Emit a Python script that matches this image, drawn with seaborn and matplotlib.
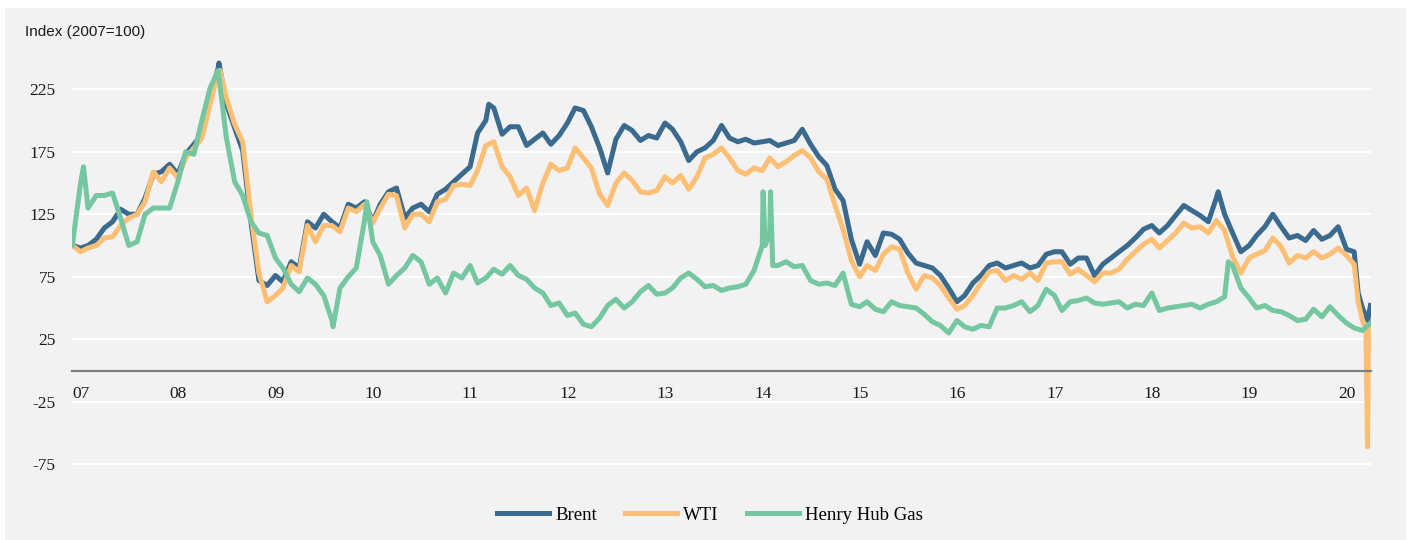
import pandas as pd
import seaborn as sns
import matplotlib.pyplot as plt
from matplotlib.patches import Rectangle

# monthly index values (2007=100), Jan 2007 .. May 2020
months = pd.date_range("2007-01-01", "2020-05-01", freq="MS")

brent = [100, 98, 100, 105, 114, 119, 129, 125, 125, 138, 157, 159,
         165, 157, 173, 181, 189, 216, 242, 213, 194, 176, 119, 72,
         68, 76, 71, 87, 82, 119, 114, 125, 119, 114, 133, 130,
         135, 119, 133, 143, 146, 122, 130, 133, 127, 141, 145, 151,
         157, 163, 190, 200, 210, 189, 195, 195, 180, 185, 190, 181,
         188, 198, 210, 208, 195, 178, 158, 185, 196, 192, 184, 188,
         186, 198, 193, 183, 168, 175, 178, 184, 196, 186, 183, 185,
         182, 183, 184, 180, 182, 184, 193, 181, 171, 164, 145, 136,
         105, 85, 103, 92, 110, 109, 105, 94, 86, 84, 82, 76,
         66, 55, 60, 70, 76, 84, 86, 82, 84, 86, 82, 84,
         93, 95, 95, 85, 90, 90, 76, 85, 90, 95, 100, 106,
         113, 116, 110, 116, 124, 132, 128, 124, 119, 138, 125, 110,
         95, 100, 108, 115, 125, 115, 106, 108, 104, 112, 105, 108,
         115, 97, 95, 50, 52]

wti = [100, 95, 98, 100, 106, 107, 116, 122, 125, 135, 159, 151,
       162, 154, 170, 178, 186, 213, 238, 218, 197, 183, 125, 78,
       55, 60, 66, 84, 79, 116, 103, 116, 116, 111, 130, 127,
       133, 118, 130, 141, 140, 114, 125, 125, 119, 135, 137, 148,
       149, 148, 160, 180, 183, 163, 155, 140, 146, 128, 150, 165,
       160, 162, 178, 170, 162, 141, 132, 150, 158, 152, 143, 142,
       144, 155, 150, 156, 145, 155, 170, 173, 178, 170, 160, 157,
       162, 160, 170, 163, 167, 172, 176, 170, 159, 153, 132, 113,
       88, 75, 84, 80, 93, 99, 97, 78, 65, 76, 74, 68,
       58, 49, 52, 60, 70, 79, 80, 72, 76, 73, 78, 72,
       86, 87, 87, 77, 81, 76, 71, 78, 78, 81, 89, 95,
       101, 105, 98, 104, 110, 118, 114, 115, 110, 120, 112, 91,
       78, 90, 93, 96, 106, 99, 86, 92, 90, 95, 90, 93,
       98, 92, 85, 40, 35]

gas = [100, 150, 130, 140, 140, 142, 122, 100, 103, 125, 130, 130,
       130, 151, 175, 173, 200, 226, 240, 186, 151, 140, 119, 110,
       108, 90, 82, 69, 63, 74, 69, 60, 40, 66, 75, 82,
       120, 103, 92, 69, 76, 82, 92, 87, 69, 74, 62, 78,
       74, 84, 70, 74, 81, 77, 84, 76, 73, 66, 62, 52,
       54, 44, 46, 37, 35, 42, 52, 57, 50, 55, 63, 68,
       61, 62, 66, 74, 78, 73, 67, 68, 64, 66, 67, 69,
       80, 100, 110, 84, 87, 83, 84, 72, 69, 70, 68, 78,
       53, 51, 55, 49, 47, 55, 52, 51, 50, 45, 39, 36,
       30, 40, 35, 33, 36, 35, 50, 50, 52, 55, 47, 52,
       65, 60, 48, 55, 56, 58, 54, 53, 54, 55, 50, 53,
       52, 62, 48, 50, 51, 52, 53, 50, 53, 55, 59, 84,
       66, 58, 50, 52, 48, 47, 44, 40, 41, 49, 43, 51,
       44, 38, 34, 32, 38]

# sharp moves between month starts
brent_extra_dates = ["2008-07-04", "2011-04-12", "2018-10-08", "2020-03-16", "2020-04-21"]
brent_extra = [246, 213, 143, 62, 40]

wti_extra_dates = ["2008-07-08", "2020-03-16", "2020-04-14", "2020-04-20", "2020-04-23"]
wti_extra = [240, 55, 33, -61, 15]

gas_extra_dates = ["2007-02-12", "2009-09-05", "2010-01-10", "2014-02-04", "2014-02-12",
                   "2014-03-04", "2014-03-12", "2018-11-15"]
gas_extra = [163, 35, 135, 143, 100, 143, 84, 87]

series_names = ["Brent", "WTI", "Henry Hub Gas"]
colors = ["#3a6a8e", "#fdbf74", "#74c7a1"]
year_labels = ["07", "08", "09", "10", "11", "12", "13", "14", "15", "16", "17", "18", "19", "20"]
y_ticks = [225, 175, 125, 75, 25, -25, -75]


def frame(name, vals, extra_dates, extra_vals):
    d = pd.DataFrame({"date": list(months) + list(pd.to_datetime(extra_dates)),
                      "value": list(vals) + list(extra_vals)})
    d["series"] = name
    return d.sort_values("date")


df = pd.concat([
    frame("Brent", brent, brent_extra_dates, brent_extra),
    frame("WTI", wti, wti_extra_dates, wti_extra),
    frame("Henry Hub Gas", gas, gas_extra_dates, gas_extra),
])

plt.rcParams["font.family"] = ["Liberation Serif", "DejaVu Serif"]
plt.rcParams["axes.unicode_minus"] = False

bg = "#f2f2f2"
fig = plt.figure(figsize=(14.11, 5.4), dpi=100, facecolor="white")
fig.patches.append(Rectangle((5 / 1411, 0), 1401 / 1411, 1 - 8 / 540,
                             transform=fig.transFigure, facecolor=bg, edgecolor="none", zorder=-10))
ax = fig.add_axes([72.3 / 1411, 1 - 476.75 / 540, 1298.4 / 1411, 425 / 540])
ax.set_facecolor(bg)

sns.lineplot(data=df, x="date", y="value", hue="series", hue_order=series_names,
             palette=dict(zip(series_names, colors)), linewidth=3.6, sort=False,
             estimator=None, ax=ax)

ax.set_xlim(pd.Timestamp("2007-01-01"), pd.Timestamp("2020-05-02"))
ax.set_ylim(-85, 255)
ax.set_xlabel("")
ax.set_ylabel("")

ax.tick_params(axis="both", length=0, labelcolor="#1a1a1a", labelsize=12.5)
ax.tick_params(axis="y", pad=12)

ax.set_yticks(y_ticks)
ax.set_yticklabels([str(t) for t in y_ticks])
ax.yaxis.grid(True, color="white", linewidth=1.6)
ax.xaxis.grid(False)
ax.set_axisbelow(True)

# year labels sit just under the zero line, starting at each year
ax.set_xticks([])
for y in year_labels:
    ax.annotate(y, xy=(pd.Timestamp(f"20{y}-01-01"), 0), xycoords="data",
                xytext=(0, -11), textcoords="offset points",
                ha="left", va="top", fontsize=12.5, color="#1a1a1a")

for s in ["top", "right", "left"]:
    ax.spines[s].set_visible(False)
ax.spines["bottom"].set_position(("data", 0))
ax.spines["bottom"].set_color("#7f7f7f")
ax.spines["bottom"].set_linewidth(1.6)

handles, labels = ax.get_legend_handles_labels()
ax.get_legend().remove()
for h in handles:
    h.set_linewidth(3.6)
fig.legend(handles, labels, loc="center", bbox_to_anchor=(0.503, 1 - 515 / 540), ncol=3,
           frameon=False, prop={"size": 13.5},
           handlelength=2.8, handletextpad=0.3, columnspacing=1.5)

fig.text(25 / 1411, 1 - 32 / 540, "Index (2007=100)", fontfamily="Liberation Sans",
         fontsize=11, va="center", ha="left", color="#1a1a1a")

fig.savefig("out.png", dpi=100, facecolor="white")
